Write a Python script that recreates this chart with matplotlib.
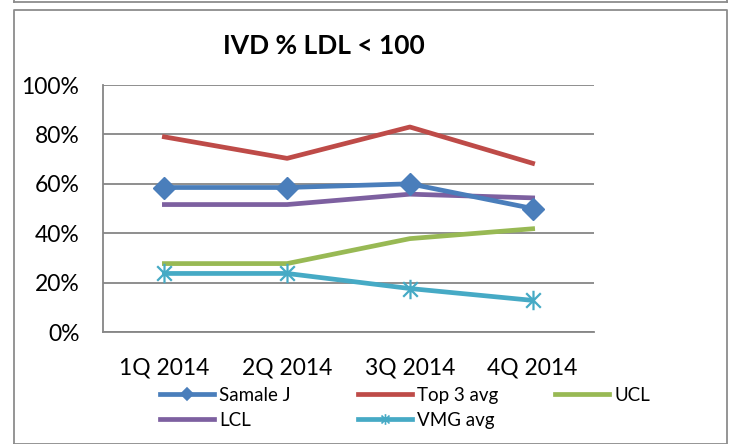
import numpy as np
import matplotlib
matplotlib.use('Agg')
import matplotlib.pyplot as plt
from matplotlib.path import Path
from matplotlib.lines import Line2D

plt.rcParams['font.family'] = ['Lato', 'DejaVu Sans']

quarters = ['1Q 2014', '2Q 2014', '3Q 2014', '4Q 2014']
samale_j = [58.5, 58.5, 60.0, 50.0]
top3_avg = [79.0, 70.3, 83.0, 68.3]
ucl = [27.7, 27.7, 37.8, 41.8]
lcl = [51.6, 51.6, 55.8, 54.3]
vmg_avg = [23.7, 23.7, 17.6, 12.8]
yticks = [0, 20, 40, 60, 80, 100]

c_blue = '#4A7EBB'
c_red = '#BE4B48'
c_green = '#98B954'
c_purple = '#7D60A0'
c_cyan = '#46AAC5'
c_grid = '#868686'

W, H = 731, 444
fig = plt.figure(figsize=(W/100, H/100), dpi=100)

def px(x, y):
    return x/W, 1 - y/H

# chart frames
frame = dict(color='#8c8c8c', lw=1.3, transform=fig.transFigure)
fig.add_artist(Line2D([14/W, 727/W], [1-2/H, 1-2/H], **frame))
fig.add_artist(Line2D([14/W, 14/W], [1, 1-2/H], **frame))
fig.add_artist(Line2D([727/W, 727/W], [1, 1-2/H], **frame))
fig.add_artist(Line2D([14/W, 727/W, 727/W, 14/W, 14/W],
                      [0, 0, 1-10/H, 1-10/H, 0], **frame))

left, right, top, bottom = 103, 594, 85, 332
ax = fig.add_axes([left/W, 1-bottom/H, (right-left)/W, (bottom-top)/H])

star = Path([(0, -1), (0, 1), (-0.75, -0.75), (0.75, 0.75), (-0.75, 0.75), (0.75, -0.75)],
            [Path.MOVETO, Path.LINETO, Path.MOVETO, Path.LINETO, Path.MOVETO, Path.LINETO])

x = np.arange(len(quarters))
lw = 3.4
ax.plot(x, samale_j, color=c_blue, lw=lw, marker='D', ms=11, zorder=5, label='Samale J')
ax.plot(x, top3_avg, color=c_red, lw=lw, zorder=3, label='Top 3 avg')
ax.plot(x, ucl, color=c_green, lw=lw, zorder=3, label='UCL')
ax.plot(x, lcl, color=c_purple, lw=lw, zorder=4, label='LCL')
ax.plot(x, vmg_avg, color=c_cyan, lw=lw, marker=star, ms=14, mew=1.6,
        mec=c_cyan, zorder=5, label='VMG avg')

ax.set_xlim(-0.5, len(quarters) - 0.5)
ax.set_ylim(0, 100)
ax.set_yticks(yticks)
ax.set_yticklabels(['%d%%' % v for v in yticks])
ax.set_xticks(x)
ax.set_xticklabels(quarters)
ax.tick_params(axis='both', length=0, labelsize=16.5, colors='black')
ax.tick_params(axis='y', pad=17)
ax.tick_params(axis='x', pad=18)
ax.grid(axis='y', color=c_grid, lw=1.3)
ax.set_axisbelow(True)
for s in ['top', 'right']:
    ax.spines[s].set_visible(False)
for s in ['left', 'bottom']:
    ax.spines[s].set_color(c_grid)
    ax.spines[s].set_linewidth(1.3)

fig.text(324/W, 1-46/H, 'IVD % LDL < 100', fontsize=19, fontweight='bold',
         ha='center', va='center')

# legend in three columns like Excel
handles, labels = ax.get_legend_handles_labels()
hd = dict(zip(labels, handles))
legend_cols = [(['Samale J', 'LCL'], 160), (['Top 3 avg', 'VMG avg'], 358), (['UCL'], 555)]
for names, lx in legend_cols:
    hs = []
    for n in names:
        h = hd[n]
        hs.append(Line2D([], [], color=h.get_color(), lw=lw, marker=h.get_marker(),
                         ms=h.get_markersize() * 0.55, mec=h.get_color(), mew=1.2))
    leg = fig.legend(hs, names, loc='upper left', bbox_to_anchor=px(lx, 387),
                     frameon=False, fontsize=13.5, handlelength=2.9, handletextpad=0.25,
                     labelspacing=0.42, borderpad=0, borderaxespad=0)

fig.savefig('out.png', dpi=100)
